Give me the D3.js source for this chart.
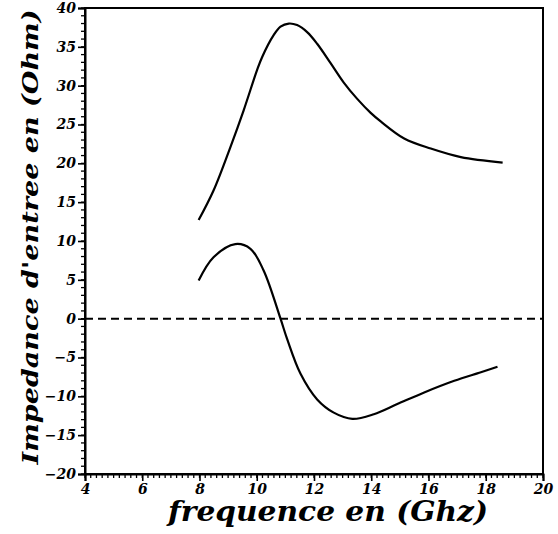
<!DOCTYPE html>
<html>
<head>
<meta charset="utf-8">
<script src="https://cdnjs.cloudflare.com/ajax/libs/d3/7.8.5/d3.min.js"></script>
<style>
body { margin: 0; background: #fff; }
</style>
</head>
<body>
<script>
// data
var freqReal = [7.97, 8.49, 9.08, 9.54, 10.01, 10.19, 10.59, 10.83, 11.12, 11.41, 11.76, 12.11, 12.58, 13.04, 13.51, 13.98, 14.33, 15.15, 16.08, 17.13, 18.59];
var zReal    = [12.7, 16.5, 22.1, 26.8, 32.0, 33.7, 36.5, 37.6, 38.0, 37.8, 36.9, 35.4, 32.9, 30.4, 28.3, 26.5, 25.4, 23.2, 21.9, 20.8, 20.1];

var freqImag = [7.97, 8.49, 9.25, 9.78, 10.24, 10.83, 11.06, 11.53, 12.11, 12.69, 13.34, 14.09, 14.91, 15.85, 16.9, 17.83, 18.41];
var zImag    = [4.9, 7.9, 9.6, 9.0, 6.2, 0.0, -2.6, -7.1, -10.4, -12.1, -12.9, -12.3, -11.0, -9.5, -8.0, -6.9, -6.2];

var xTicks = [4, 6, 8, 10, 12, 14, 16, 18, 20],
    yTicks = [40, 35, 30, 25, 20, 15, 10, 5, 0, -5, -10, -15, -20];

var width = 558,
    height = 534,
    plotLeft = 85,
    plotRight = 543,
    plotTop = 8,
    plotBottom = 474;

var x = d3.scaleLinear().domain([4, 20]).range([plotLeft, plotRight]),
    y = d3.scaleLinear().domain([-20, 40]).range([plotBottom, plotTop]);

var svg = d3.select("body")
    .append("svg")
        .attr("width", width)
        .attr("height", height);

function labelFont(sel, size) {
    sel.attr("font-family", "'DejaVu Serif', serif")
        .attr("font-style", "italic")
        .attr("font-weight", "bold")
        .attr("font-size", size)
        .attr("fill", "#000");
}

// frame
svg.append("rect")
    .attr("x", plotLeft)
    .attr("y", plotTop)
    .attr("width", plotRight - plotLeft)
    .attr("height", plotBottom - plotTop)
    .attr("fill", "none")
    .attr("stroke", "#000")
    .attr("stroke-width", 2);

// minor ticks
svg.append("g")
    .selectAll("line")
    .data(d3.range(4, 20.01, 0.2))
    .enter()
    .append("line")
    .attr("x1", function(d) { return x(d); })
    .attr("x2", function(d) { return x(d); })
    .attr("y1", plotBottom)
    .attr("y2", plotBottom + 4)
    .attr("stroke", "#000")
    .attr("stroke-width", 1.3);

svg.append("g")
    .selectAll("line")
    .data(d3.range(-20, 40.01, 1))
    .enter()
    .append("line")
    .attr("x1", plotLeft)
    .attr("x2", plotLeft - 4)
    .attr("y1", function(d) { return y(d); })
    .attr("y2", function(d) { return y(d); })
    .attr("stroke", "#000")
    .attr("stroke-width", 1.3);

// axes with labels
var xAxis = svg.append("g")
    .attr("transform", "translate(0," + plotBottom + ")")
    .call(labelFont, 14)
    .call(d3.axisBottom(x).tickValues(xTicks).tickSize(7).tickPadding(3));

var yAxis = svg.append("g")
    .attr("transform", "translate(" + plotLeft + ",0)")
    .call(labelFont, 14)
    .call(d3.axisLeft(y).tickValues(yTicks).tickSize(7).tickPadding(2)
        .tickFormat(function(d) { return d < 0 ? "\u2212" + (-d) : d; }));

[xAxis, yAxis].forEach(function(a) {
    a.attr("font-family", "'DejaVu Serif', serif")
        .attr("font-size", 14);
    a.select(".domain").attr("stroke-width", 2);
    a.selectAll(".tick line").attr("stroke-width", 1.6);
});

// zero line
svg.append("line")
    .attr("x1", plotLeft)
    .attr("x2", plotRight)
    .attr("y1", y(0))
    .attr("y2", y(0))
    .attr("stroke", "#000")
    .attr("stroke-width", 2)
    .attr("stroke-dasharray", "8,5");

// the two curves
var line = d3.line()
    .x(function(d) { return x(d[0]); })
    .y(function(d) { return y(d[1]); })
    .curve(d3.curveCatmullRom.alpha(0.5));

svg.append("path")
    .datum(d3.zip(freqReal, zReal))
    .attr("d", line)
    .attr("fill", "none")
    .attr("stroke", "#000")
    .attr("stroke-width", 2.2);

svg.append("path")
    .datum(d3.zip(freqImag, zImag))
    .attr("d", line)
    .attr("fill", "none")
    .attr("stroke", "#000")
    .attr("stroke-width", 2.2);

// titles
svg.append("text")
    .attr("x", 328)
    .attr("y", 521)
    .attr("text-anchor", "middle")
    .attr("textLength", 320)
    .attr("lengthAdjust", "spacingAndGlyphs")
    .call(labelFont, 27)
    .text("frequence en (Ghz)");

svg.append("text")
    .attr("transform", "translate(38," + 237 + ") rotate(-90)")
    .attr("text-anchor", "middle")
    .attr("textLength", 455)
    .attr("lengthAdjust", "spacingAndGlyphs")
    .call(labelFont, 23)
    .text("Impedance d'entree en (Ohm)");
</script>
</body>
</html>
